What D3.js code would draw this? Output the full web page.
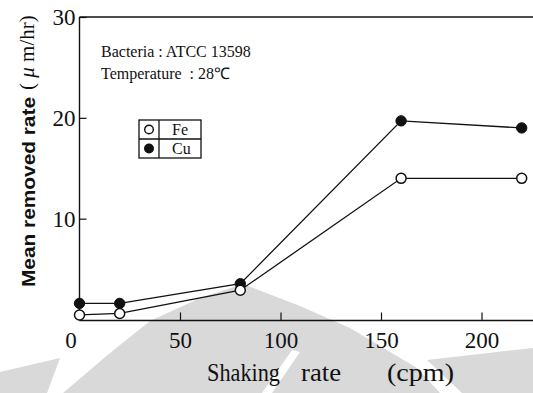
<!DOCTYPE html>
<html>
<head>
<meta charset="utf-8">
<script src="https://cdn.jsdelivr.net/npm/d3@7/dist/d3.min.js"></script>
<style>
  html, body { margin: 0; padding: 0; background: #fff; }
  svg { display: block; }
  text { white-space: pre; }
</style>
</head>
<body>
<svg id="chart" width="533" height="393"></svg>
<script>
// ---- data ----
const shakingRate = [0, 20, 80, 160, 220];
const feRate = [0.45, 0.6, 2.9, 14.0, 14.0];
const cuRate = [1.6, 1.6, 3.55, 19.7, 19.0];
const xTicks = [0, 50, 100, 150, 200];
const yTicks = [10, 20, 30];
const seriesNames = ["Fe", "Cu"];
const infoLines = ["Bacteria : ATCC 13598", "Temperature  : 28\u2103"];

// ---- layout ----
const plotL = 79.5, plotT = 17, plotB = 319.5, plotR = 533;
const svg = d3.select("#chart");
const serif = "'Liberation Serif', 'Times New Roman', serif";
const sans = "'Liberation Sans', Arial, sans-serif";

const x = d3.scaleLinear().domain([0, 200]).range([plotL, 481.5]);
const y = d3.scaleLinear().domain([0, 30]).range([plotB, plotT]);

// ---- faint background watermark ----
const wm = svg.append("g").attr("fill", "#d9d9d9");
const wmShapes = [
  [[0,372],[60,358],[47,393],[0,393]],
  [[63,393],[110,353],[150,321],[200,298],[243,284],[300,306],[350,328],[417,368],[440,393]],
  [[427,360],[533,348],[533,393],[462,393]]
];
wmShapes.forEach(s => wm.append("path").attr("d", d3.line()(s) + "Z"));
svg.append("path").attr("d", d3.line()([[292,350],[300,352],[272,393],[262,393]]) + "Z").attr("fill", "#fff");

// ---- frame ----
const frame = svg.append("g").attr("stroke", "#111").attr("stroke-width", 1.4).attr("fill", "none");
frame.append("line").attr("x1", plotL).attr("x2", plotR).attr("y1", plotT).attr("y2", plotT);
frame.append("line").attr("x1", plotL).attr("x2", plotL).attr("y1", plotT).attr("y2", plotB + 1);
frame.append("line").attr("x1", plotL).attr("x2", plotR).attr("y1", plotB + 1).attr("y2", plotB + 1);

// ---- axes ----
const yAxis = svg.append("g").attr("transform", `translate(${plotL},0)`)
  .call(d3.axisLeft(y).tickValues(yTicks).tickSizeInner(-7).tickSizeOuter(0).tickPadding(4).tickFormat(d3.format("d")));
yAxis.attr("font-family", null).attr("font-size", null);
yAxis.select(".domain").remove();
yAxis.selectAll("line").attr("stroke", "#111").attr("stroke-width", 1.2);
yAxis.selectAll("text").style("font-family", serif).style("font-size", "23px").attr("fill", "#111").attr("dy", "0.34em");

const xAxis = svg.append("g").attr("transform", `translate(0,${plotB + 1})`)
  .call(d3.axisBottom(x).tickValues(xTicks).tickSizeInner(-8).tickSizeOuter(0).tickPadding(4).tickFormat(d3.format("d")));
xAxis.attr("font-family", null).attr("font-size", null);
xAxis.select(".domain").remove();
xAxis.selectAll("line").attr("stroke", "#111").attr("stroke-width", 1.2);
xAxis.selectAll(".tick").filter(d => d === 0).select("line").remove();
xAxis.selectAll("text").style("font-family", serif).style("font-size", "23px").attr("fill", "#111").attr("y", 11).attr("dy", "0.71em");
xAxis.selectAll(".tick").filter(d => d === 0).select("text").attr("x", -9);

// ---- lines and markers ----
const pts = v => shakingRate.map((s, i) => [x(s), y(v[i])]);
const line = d3.line();
svg.append("path").attr("d", line(pts(cuRate))).attr("fill", "none").attr("stroke", "#111").attr("stroke-width", 1.3);
svg.append("path").attr("d", line(pts(feRate))).attr("fill", "none").attr("stroke", "#111").attr("stroke-width", 1.3);

svg.append("g").selectAll("circle").data(pts(cuRate)).join("circle")
  .attr("cx", d => d[0]).attr("cy", d => d[1]).attr("r", 5.2)
  .attr("fill", "#111").attr("stroke", "#111").attr("stroke-width", 1);
svg.append("g").selectAll("circle").data(pts(feRate)).join("circle")
  .attr("cx", d => d[0]).attr("cy", d => d[1]).attr("r", 5)
  .attr("fill", "#fff").attr("stroke", "#111").attr("stroke-width", 1.5);

// ---- info text ----
svg.append("g").selectAll("text").data(infoLines).join("text")
  .attr("x", 101).attr("y", (d, i) => 57 + i * 22)
  .style("font-family", serif).style("font-size", "16px").attr("fill", "#111")
  .text(d => d);

// ---- legend ----
const lg = svg.append("g").attr("transform", "translate(139,120)");
lg.append("rect").attr("x", 0).attr("y", 0).attr("width", 62).attr("height", 38)
  .attr("fill", "none").attr("stroke", "#111").attr("stroke-width", 1.3);
lg.append("line").attr("x1", 20).attr("x2", 20).attr("y1", 0).attr("y2", 38).attr("stroke", "#111").attr("stroke-width", 1.3);
lg.append("line").attr("x1", 0).attr("x2", 62).attr("y1", 19).attr("y2", 19).attr("stroke", "#111").attr("stroke-width", 1.3);
seriesNames.forEach((n, i) => {
  lg.append("circle").attr("cx", 10).attr("cy", 9.5 + i * 19).attr("r", 4.3)
    .attr("fill", i === 0 ? "#fff" : "#111").attr("stroke", "#111").attr("stroke-width", 1.4);
  lg.append("text").attr("x", 33).attr("y", 15 + i * 19)
    .style("font-family", serif).style("font-size", "16px").attr("fill", "#111").text(n);
});

// ---- axis titles ----
const yt = svg.append("g").attr("transform", "translate(35,0) rotate(-90)");
yt.append("text").attr("x", -287).attr("y", 0)
  .style("font-family", sans).style("font-weight", "bold").style("font-size", "19px")
  .attr("textLength", 190).attr("lengthAdjust", "spacingAndGlyphs").attr("fill", "#111")
  .text("Mean removed rate");
const yt2 = yt.append("text").attr("x", -90).attr("y", -1)
  .style("font-family", serif).style("font-size", "21px").attr("fill", "#111");
yt2.append("tspan").text("( ");
yt2.append("tspan").attr("font-style", "italic").text("\u03BC");
yt2.append("tspan").text(" m/hr)");

const xl = svg.append("g").style("font-family", serif).style("font-size", "25px").attr("fill", "#111");
[["Shaking", 207, 73], ["rate", 301, 40], ["(cpm)", 387, 67]].forEach(([t, px, w]) => {
  xl.append("text").attr("x", px).attr("y", 381).attr("textLength", w).attr("lengthAdjust", "spacingAndGlyphs").text(t);
});
</script>
</body>
</html>
